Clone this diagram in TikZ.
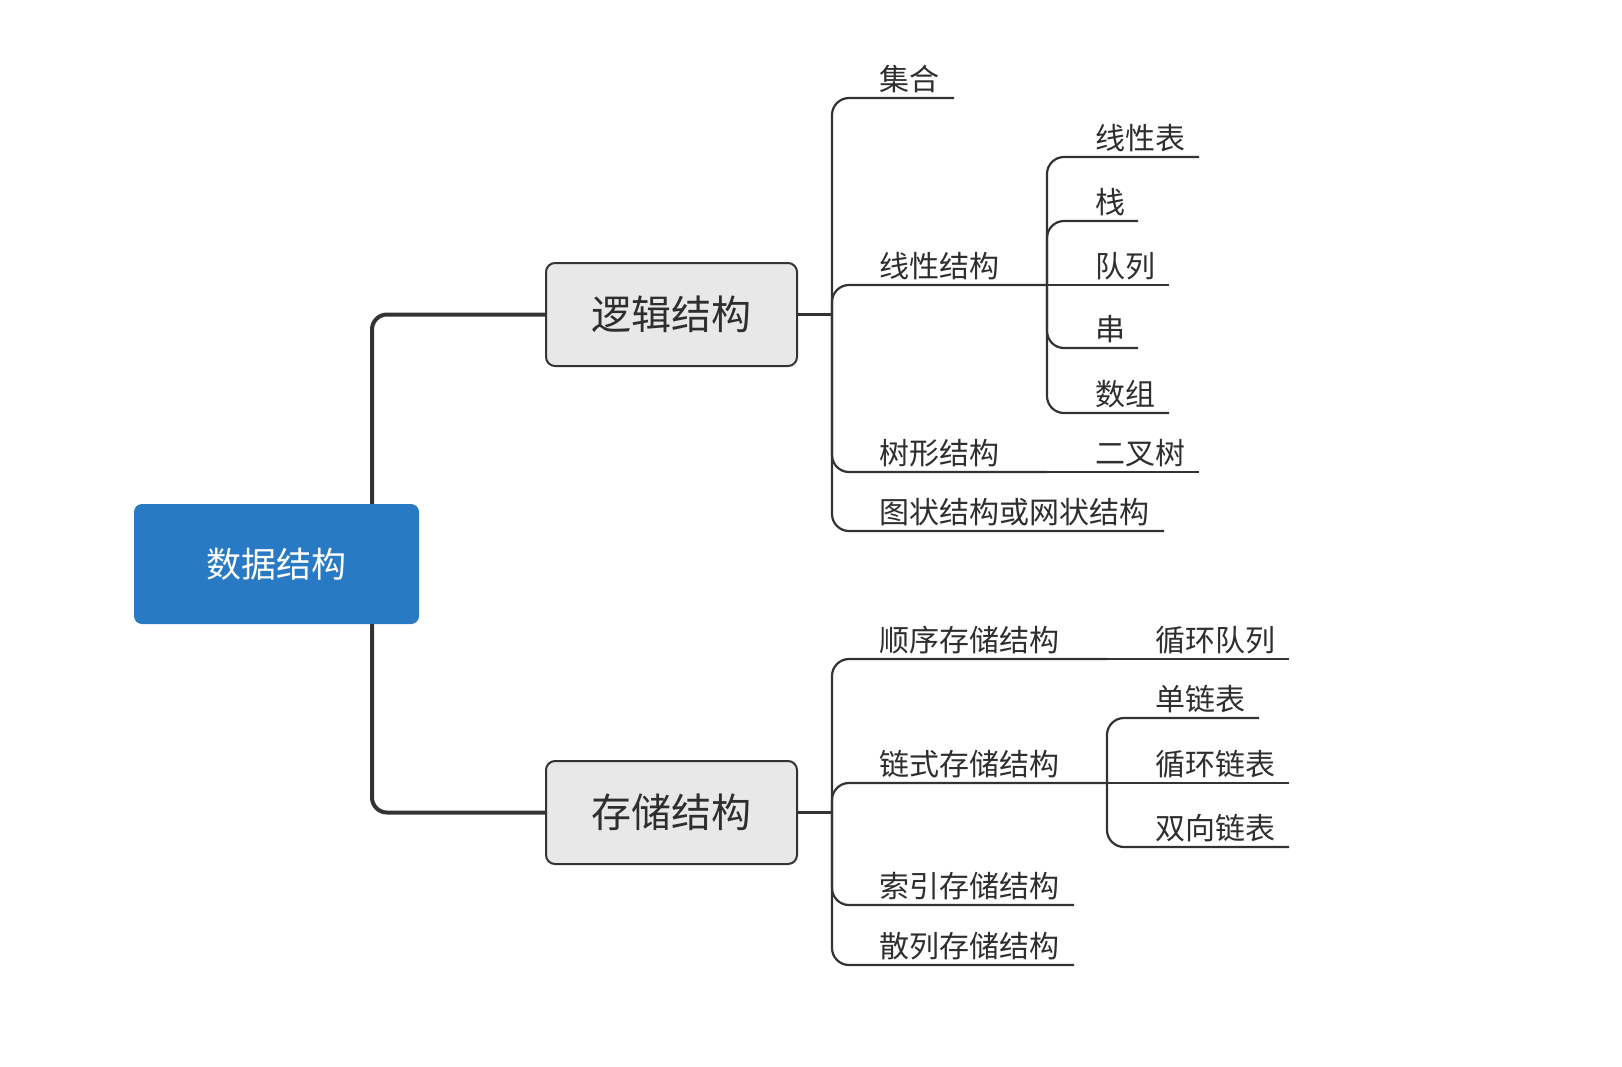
\documentclass[tikz,border=0pt]{standalone}
\usepackage{fontspec}
\newfontfamily\cjk{Noto Sans CJK SC}
\usetikzlibrary{calc}
\definecolor{root blue}{RGB}{41,122,196}
\definecolor{topic fill}{RGB}{232,232,232}
\colorlet{line gray}{black!80}
\colorlet{text gray}{black!82}
\tikzset{rootbox/.style={fill=root blue, rounded corners=8pt, minimum width=285pt, minimum height=120pt,
		text=white, font=\cjk\fontsize{35}{40}\selectfont},
	topic/.style={fill=topic fill, draw=line gray, line width=2pt, rounded corners=9pt,
		minimum width=251pt, minimum height=103pt, text=text gray, font=\cjk\fontsize{40}{46}\selectfont},
	leaf/.style={anchor=base west, inner sep=0pt, text=text gray, font=\cjk\fontsize{30}{34}\selectfont},
	trunk/.style={draw=line gray, line width=4pt, rounded corners=15pt},
	branch/.style={draw=line gray, line width=2.2pt, rounded corners=17pt}}

\begin{document}
\begin{tikzpicture}[x=1pt, y=-1pt]
		\useasboundingbox (0,0) rectangle (1622,1066);
		\node[rootbox] (ds) at (276.5,564) {数据结构};
		\node[topic] (logic) at (671.5,314.5) {逻辑结构};
		\node[topic] (storage) at (671.5,812.5) {存储结构};
		\draw[trunk] ([xshift=95.5pt]ds.north) |- (logic.west);
		\draw[trunk] ([xshift=95.5pt]ds.south) |- (storage.west);
		
		% logical structure
		\draw[branch] (logic.east) -- ++(34,0) coordinate (lj);
		\node[leaf] (jihe) at (879,90) {集合};
		\node[leaf] (xianxing) at (879,277) {线性结构};
		\node[leaf] (shuxing) at (879,464) {树形结构};
		\node[leaf] (tuzhuang) at (879,523) {图状结构或网状结构};
		\coordinate (jihe-e) at (954,98);
		\coordinate (xianxing-j) at (1047,285);
		\coordinate (shuxing-j) at (1047,472);
		\coordinate (tuzhuang-e) at (1164,531);
		\draw[branch] (lj) |- (jihe-e);
		\draw[branch] (lj) |- (xianxing-j);
		\draw[branch] (lj) |- (shuxing-j);
		\draw[branch] (lj) |- (tuzhuang-e);
		
		\node[leaf] (biao) at (1095,149) {线性表};
		\node[leaf] (zhan) at (1095,213) {栈};
		\node[leaf] (duilie) at (1095,277) {队列};
		\node[leaf] (chuan) at (1095,340) {串};
		\node[leaf] (shuzu) at (1095,405) {数组};
		\node[leaf] (erchashu) at (1095,464) {二叉树};
		\coordinate (biao-e) at (1199,157);
		\coordinate (zhan-e) at (1138,221);
		\coordinate (duilie-e) at (1169,285);
		\coordinate (chuan-e) at (1138,348);
		\coordinate (shuzu-e) at (1169,413);
		\coordinate (erchashu-e) at (1199,472);
		\draw[branch] (xianxing-j) |- (biao-e);
		\draw[branch] (xianxing-j) |- (zhan-e);
		\draw[branch] (xianxing-j) -- (duilie-e);
		\draw[branch] (xianxing-j) |- (chuan-e);
		\draw[branch] (xianxing-j) |- (shuzu-e);
		\draw[branch] (shuxing-j) -- (erchashu-e);
		
		% storage structure
		\draw[branch] (storage.east) -- ++(34,0) coordinate (sj);
		\node[leaf] (shunxu) at (879,651) {顺序存储结构};
		\node[leaf] (lianshi) at (879,775) {链式存储结构};
		\node[leaf] (suoyin) at (879,897) {索引存储结构};
		\node[leaf] (sanlie) at (879,957) {散列存储结构};
		\coordinate (shunxu-j) at (1107,659);
		\coordinate (lianshi-j) at (1107,783);
		\coordinate (suoyin-e) at (1074,905);
		\coordinate (sanlie-e) at (1074,965);
		\draw[branch] (sj) |- (shunxu-j);
		\draw[branch] (sj) |- (lianshi-j);
		\draw[branch] (sj) |- (suoyin-e);
		\draw[branch] (sj) |- (sanlie-e);
		
		\node[leaf] (xhduilie) at (1155,651) {循环队列};
		\node[leaf] (danlian) at (1155,710) {单链表};
		\node[leaf] (xhlian) at (1155,775) {循环链表};
		\node[leaf] (shuangxiang) at (1155,839) {双向链表};
		\coordinate (xhduilie-e) at (1289,659);
		\coordinate (danlian-e) at (1259,718);
		\coordinate (xhlian-e) at (1289,783);
		\coordinate (shuangxiang-e) at (1289,847);
		\draw[branch] (shunxu-j) -- (xhduilie-e);
		\draw[branch] (lianshi-j) |- (danlian-e);
		\draw[branch] (lianshi-j) -- (xhlian-e);
		\draw[branch] (lianshi-j) |- (shuangxiang-e);
		\end{tikzpicture}
\end{document}
